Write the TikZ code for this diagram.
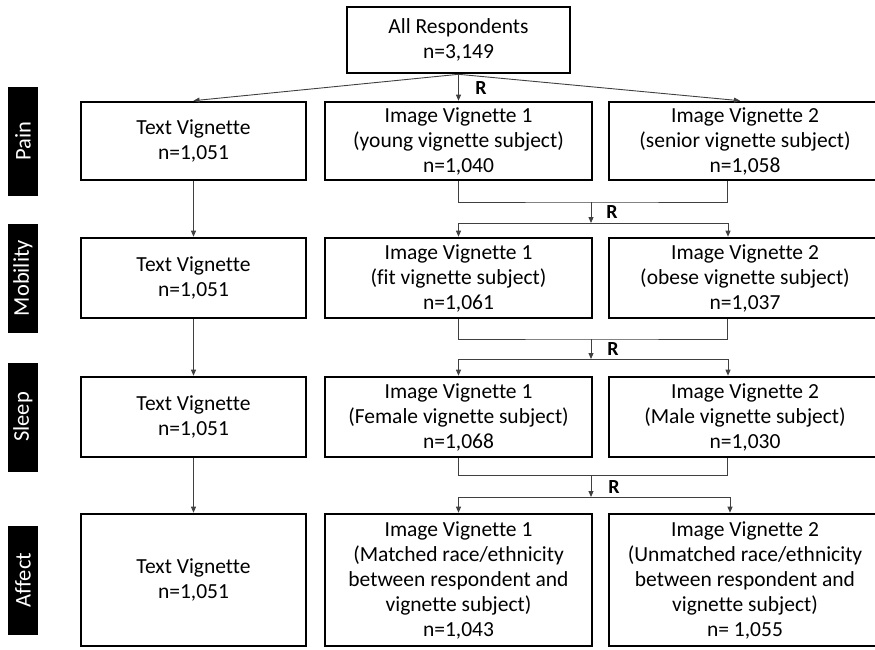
\documentclass[tikz,border=0pt]{standalone}
\usepackage{fontspec}
\setmainfont{Carlito}[Ligatures=NoCommon]
\usetikzlibrary{arrows.meta,calc}
\begin{document}
\begin{tikzpicture}[x=1pt,y=1pt,
  box/.style={draw=black, line width=2.6pt, align=center, inner sep=0pt, font=\fontsize{21.5}{25}\selectfont},
  tag/.style={fill=black, text=white, minimum width=109pt, minimum height=30pt, inner sep=0pt, font=\fontsize{22.5}{24}\selectfont, rotate=90},
  conn/.style={draw=black!75, line width=0.9pt},
  arr/.style={conn, -{Triangle[length=6pt,width=5pt]}},
  rlab/.style={font=\fontsize{20}{22}\selectfont\bfseries, inner sep=0pt}
]
\useasboundingbox (0,0) rectangle (875,-649);

% side tags
\node[tag] (tagpain) at (23,-141) {Pain};
\node[tag] (tagmob) at (23,-278) {Mobility};
\node[tag] (tagsleep) at (23,-417) {Sleep};
\node[tag] (tagaff) at (23,-580) {Affect};

% top
\node[box, minimum width=223pt, minimum height=66pt] (all) at (458.5,-40) {All Respondents\\n=3,149};

% row 1
\node[box, minimum width=225pt, minimum height=78pt] (t1) at (193.5,-141) {Text Vignette\\n=1,051};
\node[box, minimum width=267pt, minimum height=78pt] (a1) at (458.5,-141) {Image Vignette 1\\(young vignette subject)\\n=1,040};
\node[box, minimum width=272pt, minimum height=78pt] (b1) at (745,-141) {Image Vignette 2\\(senior vignette subject)\\n=1,058};

% row 2
\node[box, minimum width=225pt, minimum height=80pt] (t2) at (193.5,-278) {Text Vignette\\n=1,051};
\node[box, minimum width=267pt, minimum height=80pt] (a2) at (458.5,-278) {Image Vignette 1\\(fit vignette subject)\\n=1,061};
\node[box, minimum width=272pt, minimum height=80pt] (b2) at (745,-278) {Image Vignette 2\\(obese vignette subject)\\n=1,037};

% row 3
\node[box, minimum width=225pt, minimum height=80pt] (t3) at (193.5,-417) {Text Vignette\\n=1,051};
\node[box, minimum width=267pt, minimum height=80pt] (a3) at (458.5,-417) {Image Vignette 1\\(Female vignette subject)\\n=1,068};
\node[box, minimum width=272pt, minimum height=80pt] (b3) at (745,-417) {Image Vignette 2\\(Male vignette subject)\\n=1,030};

% row 4
\node[box, minimum width=225pt, minimum height=132pt] (t4) at (193.5,-580) {Text Vignette\\n=1,051};
\node[box, minimum width=267pt, minimum height=132pt] (a4) at (458.5,-580) {Image Vignette 1\\(Matched race/ethnicity\\between respondent and\\vignette subject)\\n=1,043};
\node[box, minimum width=272pt, minimum height=132pt] (b4) at (745,-580) {Image Vignette 2\\(Unmatched race/ethnicity\\between respondent and\\vignette subject)\\n= 1,055};

% fan from top
\draw[arr] (all.south) -- (t1.north);
\draw[arr] (all.south) -- (a1.north);
\draw[arr] (all.south) -- ($(b1.north)+(-5,0)$);
\node[rlab] (r0) at (481,-88) {R};

% text column
\draw[arr] (t1.south) -- (t2.north);
\draw[arr] (t2.south) -- (t3.north);
\draw[arr] (t3.south) -- (t4.north);

% merges
\coordinate (h1) at (591,-202);
\coordinate (s1) at (591,-223);
\coordinate (h2) at (591,-339);
\coordinate (s2) at (591,-359);
\coordinate (h3) at (591,-475);
\coordinate (s3) at (591,-497);

\draw[conn] (a1.south) |- (h1) -| ($(b1.south)+(-18,0)$);
\draw[arr] (h1) -- (s1);
\draw[arr] (s1) -| (a2.north);
\draw[arr] (s1) -| ($(b2.north)+(-17,0)$);
\node[rlab] (r1) at (612,-212) {R};

\draw[conn] (a2.south) |- (h2) -| ($(b2.south)+(-18,0)$);
\draw[arr] (h2) -- (s2);
\draw[arr] (s2) -| (a3.north);
\draw[arr] (s2) -| ($(b3.north)+(-17,0)$);
\node[rlab] (r2) at (613,-349) {R};

\draw[conn] (a3.south) |- (h3) -| ($(b3.south)+(-18,0)$);
\draw[arr] (h3) -- (s3);
\draw[arr] (s3) -| (a4.north);
\draw[arr] (s3) -| ($(b4.north)+(-15,0)$);
\node[rlab] (r3) at (614,-487) {R};
\end{tikzpicture}
\end{document}
